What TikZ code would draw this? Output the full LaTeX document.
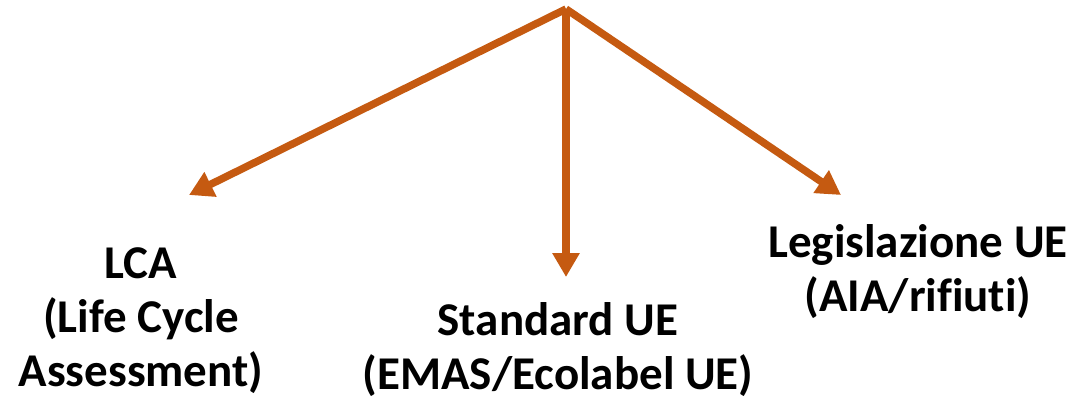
\documentclass[tikz,border=0pt]{standalone}
\usepackage{fontspec}
\setmainfont{Carlito}[RawFeature={-liga}]
\usetikzlibrary{arrows.meta}
\definecolor{arrowor}{HTML}{C55A11}
\tikzset{
  conn/.style={draw=arrowor, line width=7.5pt, -{Triangle[length=24pt,width=26pt]}},
  lbl/.style={align=center, font=\fontsize{47}{54}\selectfont\bfseries, inner sep=0pt, anchor=base}
}
\begin{document}
\begin{tikzpicture}[x=1pt,y=-1pt]
\useasboundingbox (0,0) rectangle (1076,399);
\coordinate (top) at (566,9);
\coordinate (tl) at (189,195);
\coordinate (tm) at (566,277);
\coordinate (tr) at (841,195);
\draw[conn] (top) -- (tl);
\draw[conn] (top) -- (tm);
\draw[conn] (top) -- (tr);
\node[lbl] (lca) at (141,386) {LCA\\(Life Cycle\\Assessment)};
\node[lbl] (std) at (558,389) {Standard UE\\(EMAS/Ecolabel UE)};
\node[lbl] (leg) at (918,311) {Legislazione UE\\(AIA/rifiuti)};
\end{tikzpicture}
\end{document}
